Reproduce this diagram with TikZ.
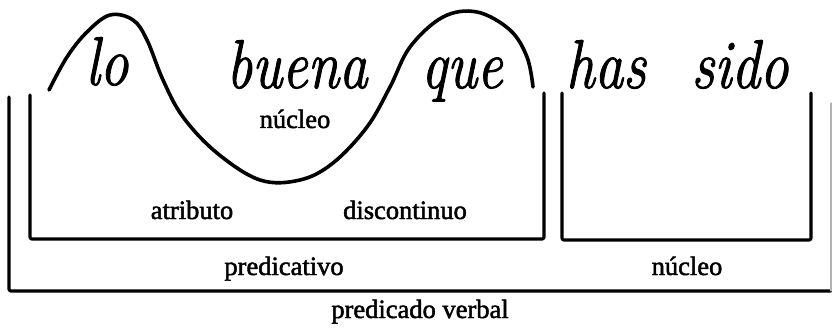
\documentclass[tikz,border=0pt]{standalone}
\usepackage{fontspec}
\setmainfont{Liberation Serif}
\newfontfamily\labfont{Liberation Serif}[FakeBold=1.8]
\newfontfamily\handfont{Latin Modern Roman}[FakeBold=1.5]
\tikzset{
  boxline/.style={line width=3.2pt, rounded corners=2pt},
  faintline/.style={line width=1.2pt, gray!60},
  wave/.style={line width=3.6pt},
  lab/.style={anchor=base, inner sep=0pt, font=\labfont\fontsize{26.5}{30}\selectfont},
  hand/.style={anchor=base, inner sep=0pt, transform shape, xscale=0.95, yscale=1.15,
    font=\handfont\itshape\fontsize{60}{64}\selectfont},
}
\begin{document}
\begin{tikzpicture}[x=1pt,y=-1pt,line cap=round,line join=round]
\useasboundingbox[fill=white] (0,0) rectangle (832,331);
% boxes
\draw[boxline] (30,95) -- (30,239) -- (544,239) -- (544,93);
\draw[boxline] (562,93) -- (562,240) -- (811,240) -- (811,93);
\draw[boxline] (9,97) -- (9,291) -- (831,291);
\draw[faintline] (831,291) -- (831,103);
% wave
\draw[wave] plot[smooth, tension=0.6] coordinates {
  (49,90) (67,57) (87,32) (110,15) (133,20) (147,40) (163,80) (183,117)
  (217,153) (260,180) (300,180) (333,163) (367,127) (390,87) (410,47)
  (443,17) (477,12) (510,30) (527,57) (533,87)};
% handwritten words
\node[hand] (lo) at (107,85) {lo};
\node[hand] (buena) at (297,88) {buena};
\node[hand] (que) at (462,88) {que};
\node[hand] (has) at (606,88) {has};
\node[hand] (sido) at (740,88) {sido};
% labels
\node[lab] (nuc1) at (295,128) {núcleo};
\node[lab] (atr) at (192,219) {atributo};
\node[lab] (disc) at (405,219) {discontinuo};
\node[lab] (pred) at (284,275) {predicativo};
\node[lab] (nuc2) at (687,275) {núcleo};
\node[lab] (pv) at (420,318) {predicado verbal};
\end{tikzpicture}
\end{document}
